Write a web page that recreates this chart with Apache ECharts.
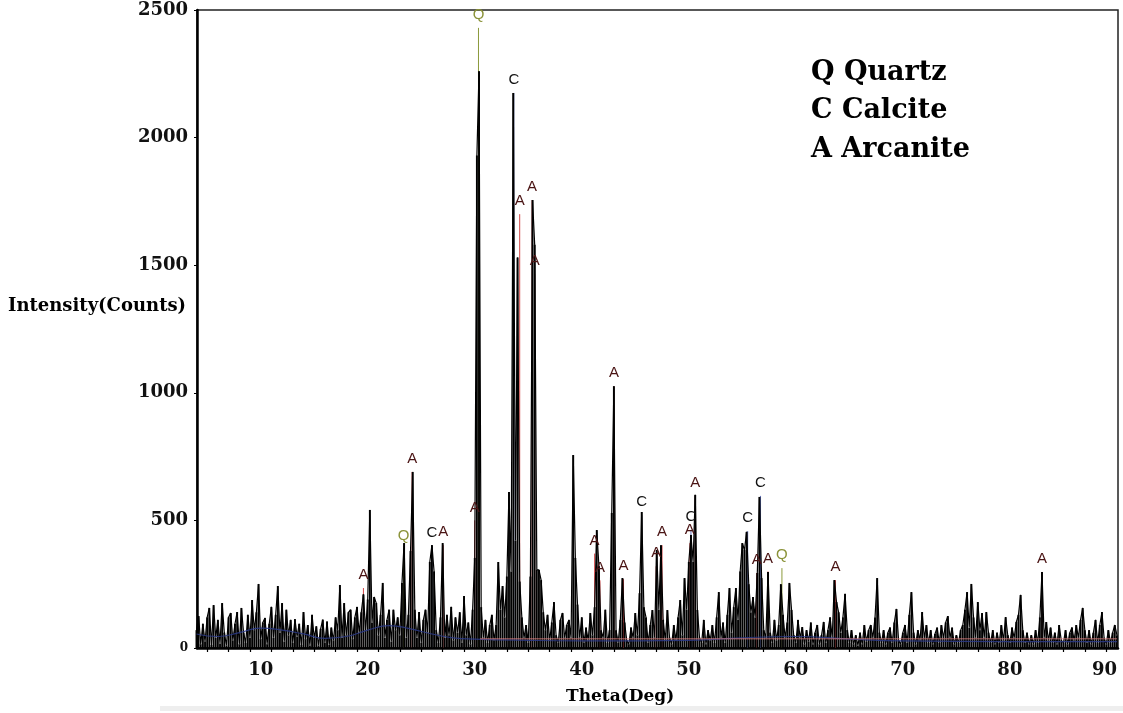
<!DOCTYPE html>
<html>
<head>
<meta charset="utf-8">
<script src="https://cdn.jsdelivr.net/npm/echarts@6/dist/echarts.min.js"></script>
<style>
  html, body { margin: 0; padding: 0; background: #ffffff; }
  #chart { width: 1123px; height: 713px; }
</style>
</head>
<body>
<div id="chart"></div>
<script>
// XRD scan: 2-theta from 4.0 deg in 0.2 deg steps, intensity in counts
const thetaStart = 4.0;
const thetaStep = 0.2;
const counts = [
  70, 125, 15, 95, 25, 120, 157, 12, 168, 40,        // 4.0 - 5.8
  110, 18, 176, 60, 10, 120, 137, 30, 95, 141,       // 6.0 - 7.8
  15, 157, 60, 20, 130, 40, 188, 70, 140, 251,       // 8.0 - 9.8
  35, 100, 118, 15, 95, 161, 40, 130, 243, 60,       // 10.0 - 11.8
  176, 25, 150, 50, 110, 20, 113, 45, 95, 12,        // 12.0 - 13.8
  141, 35, 90, 10, 130, 40, 85, 10, 75, 111,         // 14.0 - 15.8
  20, 104, 12, 80, 30, 120, 70, 247, 40, 176,        // 16.0 - 17.8
  50, 140, 150, 35, 120, 161, 60, 140, 210, 70,      // 18.0 - 19.8
  190, 541, 100, 200, 176, 50, 130, 255, 40, 110,    // 20.0 - 21.8
  150, 25, 150, 70, 120, 50, 255, 411, 40, 130,      // 22.0 - 23.8
  380, 690, 150, 40, 141, 20, 110, 150, 60, 337,     // 24.0 - 25.8
  403, 300, 70, 20, 120, 411, 40, 130, 50, 161,      // 26.0 - 27.8
  30, 120, 60, 140, 20, 204, 50, 100, 15, 150,       // 28.0 - 29.8
  353, 1930, 2260, 160, 40, 110, 20, 90, 130, 30,    // 30.0 - 31.8
  90, 337, 150, 243, 120, 280, 611, 300, 2175, 420,  // 32.0 - 33.8
  1530, 260, 120, 40, 90, 20, 280, 1755, 1580, 306,  // 34.0 - 35.8
  306, 266, 140, 70, 130, 30, 100, 180, 50, 20,      // 36.0 - 37.8
  110, 137, 40, 90, 110, 40, 756, 353, 170, 40,      // 38.0 - 39.8
  120, 20, 80, 30, 137, 50, 160, 462, 321, 70,       // 40.0 - 41.8
  40, 150, 20, 70, 529, 1026, 70, 20, 110, 274,      // 42.0 - 43.8
  100, 30, 15, 80, 40, 137, 50, 215, 533, 160,       // 44.0 - 45.8
  120, 20, 90, 149, 40, 384, 150, 403, 110, 30,      // 46.0 - 47.8
  149, 40, 15, 90, 30, 120, 188, 50, 274, 150,       // 48.0 - 49.8
  337, 443, 337, 600, 149, 40, 20, 110, 15, 70,      // 50.0 - 51.8
  30, 90, 20, 120, 219, 40, 100, 20, 130, 235,       // 52.0 - 53.8
  60, 160, 235, 110, 300, 411, 384, 455, 250, 140,   // 54.0 - 55.8
  200, 120, 294, 592, 274, 70, 40, 298, 60, 20,      // 56.0 - 57.8
  110, 30, 90, 250, 130, 40, 100, 255, 149, 50,      // 58.0 - 59.8
  20, 110, 40, 82, 15, 70, 25, 100, 15, 60,          // 60.0 - 61.8
  90, 15, 50, 102, 20, 70, 120, 40, 266, 180,        // 62.0 - 63.8
  140, 60, 120, 212, 70, 20, 70, 15, 50, 10,         // 64.0 - 65.8
  60, 15, 90, 25, 70, 90, 40, 120, 274, 60,          // 66.0 - 67.8
  20, 70, 15, 60, 80, 20, 100, 153, 30, 15,          // 68.0 - 69.8
  60, 90, 20, 130, 219, 60, 15, 70, 30, 141,         // 70.0 - 71.8
  40, 90, 20, 70, 15, 55, 80, 20, 90, 40,            // 72.0 - 73.8
  100, 125, 40, 80, 15, 50, 20, 70, 90, 150,         // 74.0 - 75.8
  219, 80, 251, 120, 40, 180, 70, 137, 40, 141,      // 76.0 - 77.8
  60, 20, 70, 15, 60, 20, 90, 30, 121, 50,           // 78.0 - 79.8
  20, 80, 40, 102, 130, 208, 70, 20, 60, 15,         // 80.0 - 81.8
  50, 15, 70, 20, 120, 298, 40, 102, 30, 80,         // 82.0 - 83.8
  20, 60, 15, 90, 30, 20, 70, 15, 60, 80,            // 84.0 - 85.8
  30, 90, 40, 110, 157, 70, 20, 70, 15, 60,          // 86.0 - 87.8
  110, 20, 90, 141, 40, 15, 70, 20, 60, 90,          // 88.0 - 89.8
  50                                                 // 90.0
];

// Fitted background under the scan
const background = [
  [4, 55], [6, 45], [8, 60], [10, 78], [12, 70], [14, 55], [16, 38], [18, 45],
  [20, 70], [22, 88], [24, 75], [26, 55], [28, 40], [30, 35], [35, 30], [40, 28],
  [50, 30], [55, 40], [60, 45], [65, 35], [70, 28], [80, 25], [90, 25]
];
const baseline2 = [[30.5, 36], [90, 36]];

// Reference line positions [2-theta, intensity] for each identified phase
const quartzPeaks = [[23.35, 390], [30.35, 2430], [58.7, 313]];
const calcitePeaks = [[26.0, 400], [33.65, 2175], [45.6, 520], [50.2, 462], [55.5, 458], [56.7, 596]];
const arcanitePeaks = [
  [19.6, 235], [24.15, 690], [27.05, 403], [30.0, 500], [34.2, 1700], [35.36, 1755],
  [35.6, 1465], [41.2, 370], [41.7, 265], [43.0, 1026], [43.9, 270], [46.95, 320],
  [47.5, 403], [50.1, 411], [50.6, 596], [56.35, 294], [57.4, 300], [63.7, 266], [83.0, 298]
];

const xLabelValues = [10, 20, 30, 40, 50, 60, 70, 80, 90];
const xTickValues = [5, 7, 9, 11, 13, 15, 17, 19, 21, 23, 25, 27, 29, 31, 33, 35, 37, 39, 41, 43, 45,
  47, 49, 51, 53, 55, 57, 59, 61, 63, 65, 67, 69, 71, 73, 75, 77, 79, 81, 83, 85, 87, 89];
const legendLines = ['Q Quartz', 'C Calcite', 'A Arcanite'];

const scan = counts.map((c, i) => [+(thetaStart + i * thetaStep).toFixed(1), c]);

const serifBold = '"DejaVu Serif", "Liberation Serif", serif';

function stickSeries(name, data, color, z) {
  return {
    name, type: 'custom', data, z, silent: true,
    renderItem: (params, api) => {
      const b = api.coord([api.value(0), 0]);
      const t = api.coord([api.value(0), api.value(1)]);
      return { type: 'line', shape: { x1: b[0], y1: b[1], x2: t[0], y2: t[1] },
        style: { stroke: color, lineWidth: 1 } };
    }
  };
}
function labelSeries(name, data, letter, color, z) {
  return {
    name, type: 'custom', data, z, silent: true, clip: false,
    renderItem: (params, api) => {
      const t = api.coord([api.value(0), api.value(1)]);
      return { type: 'text', x: t[0], y: t[1] - 13,
        style: { text: letter, fill: color, font: '15px "Liberation Sans", Arial, sans-serif',
          align: 'center', verticalAlign: 'middle' } };
    }
  };
}

const chart = echarts.init(document.getElementById('chart'), null, { renderer: 'canvas' });
chart.setOption({
  animation: false,
  backgroundColor: '#ffffff',
  grid: { left: 197, right: 5, top: 10, bottom: 65, outerBoundsMode: 'none',
    show: true, borderColor: '#222', borderWidth: 1.5 },
  xAxis: {
    type: 'value', min: 4.05, max: 90.1,
    splitLine: { show: false },
    axisLine: { onZero: false, lineStyle: { color: '#000', width: 2.5 } },
    axisTick: { show: true, length: 4, inside: false, customValues: xTickValues, lineStyle: { color: '#000', width: 1.2 } },
    axisLabel: { customValues: xLabelValues, margin: 13, color: '#111', fontFamily: serifBold, fontWeight: 'bold',
      fontSize: 18, alignMaxLabel: 'right' }
  },
  yAxis: {
    type: 'value', min: 0, max: 2500, interval: 500,
    splitLine: { show: false },
    axisLine: { show: true, lineStyle: { color: '#000', width: 2.5 } },
    axisTick: { show: true, length: 3, lineStyle: { color: '#000' } },
    axisLabel: {
      margin: 9, color: '#111', fontFamily: serifBold, fontWeight: 'bold', fontSize: 18,
      formatter: v => v === 0 ? '{z|0}' : String(v),
      rich: { z: { fontFamily: serifBold, fontWeight: 'bold', fontSize: 12, color: '#111' } }
    }
  },
  series: [
    stickSeries('Quartz lines', quartzPeaks, '#8c9a3c', 2),
    stickSeries('Calcite lines', calcitePeaks, '#6070b8', 2),
    stickSeries('Arcanite lines', arcanitePeaks, '#d04848', 2),
    // each measured step as a spike from zero, plus the trace joining the steps
    { name: 'scan spikes', type: 'bar', data: scan, barWidth: 1.9, z: 3, silent: true,
      itemStyle: { color: '#000' } },
    { name: 'scan', type: 'line', data: scan, showSymbol: false, z: 3, sampling: null,
      lineStyle: { color: '#000', width: 1.2 }, silent: true },
    { name: 'background', type: 'line', data: background, smooth: true, showSymbol: false, z: 4,
      lineStyle: { color: '#2a3a8a', width: 1.2, opacity: 0.85 }, silent: true },
    { name: 'baseline', type: 'line', data: baseline2, showSymbol: false, z: 4,
      lineStyle: { color: '#e08080', width: 1, opacity: 0.8 }, silent: true },
    labelSeries('Quartz', quartzPeaks, 'Q', '#8a9238', 5),
    labelSeries('Calcite', calcitePeaks, 'C', '#111', 5),
    labelSeries('Arcanite', arcanitePeaks, 'A', '#4a1414', 5)
  ],
  graphic: [
    { type: 'rect', left: 160, top: 706, shape: { width: 963, height: 5 }, style: { fill: '#eeeeee' }, silent: true },
    { type: 'text', left: 8, top: 297, style: { text: 'Intensity(Counts)', font: 'bold 18px ' + serifBold, fill: '#000' } },
    { type: 'text', left: 566, top: 688, style: { text: 'Theta(Deg)', font: 'bold 17px ' + serifBold, fill: '#000' } },
    ...legendLines.map((t, i) => ({
      type: 'text', left: 811, top: [59, 97, 136][i],
      style: { text: t, font: 'bold 27px ' + serifBold, fill: '#000' }
    }))
  ]
});
</script>
</body>
</html>
